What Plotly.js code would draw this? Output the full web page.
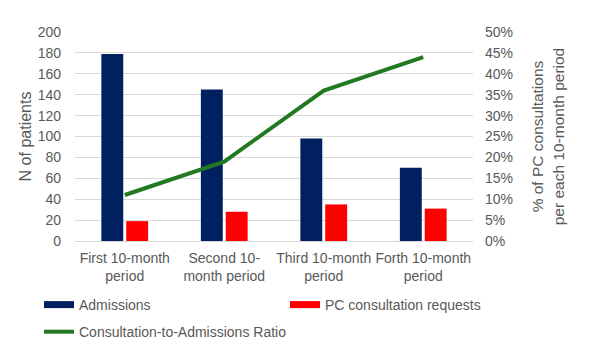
<!DOCTYPE html>
<html>
<head>
<meta charset="utf-8">
<script src="https://cdn.plot.ly/plotly-3.0.1.min.js"></script>
<style>
  html, body { margin: 0; padding: 0; background: #fff; }
  #chart { width: 600px; height: 347px; }
</style>
</head>
<body>
<div id="chart"></div>
<script>
// Four consecutive 10-month periods
const periods = [
  "First 10-month<br>period",
  "Second 10-<br>month period",
  "Third 10-month<br>period",
  "Forth 10-month<br>period"
];

// Patient counts per period
const admissions = [179, 145, 98, 70];
const pcRequests = [19, 28, 35, 31];

// Consultation-to-admissions ratio per period
const ratio = [0.11, 0.19, 0.36, 0.44];

// Axis ticks
const countTicks = [0, 20, 40, 60, 80, 100, 120, 140, 160, 180, 200];
const pctTicks = [0, 0.05, 0.10, 0.15, 0.20, 0.25, 0.30, 0.35, 0.40, 0.45, 0.50];

const NAVY = "#002060";
const RED = "#ff0000";
const GREEN = "#217a21";
const TEXT = "#595959";
const GRID = "#d9d9d9";
const FONT = "Liberation Sans, Arial, sans-serif";

const traces = [
  {
    type: "bar", name: "Admissions", x: periods, y: admissions,
    marker: { color: NAVY }, showlegend: false, hoverinfo: "x+y"
  },
  {
    type: "bar", name: "PC consultation requests", x: periods, y: pcRequests,
    marker: { color: RED }, showlegend: false, hoverinfo: "x+y"
  },
  {
    type: "scatter", mode: "lines", name: "Consultation-to-Admissions Ratio",
    x: periods, y: ratio, yaxis: "y2",
    line: { color: GREEN, width: 4 }, legend: "legend3"
  },
  // legend keys for the bar series, drawn as wide flat swatches
  {
    type: "scatter", mode: "lines", name: "Admissions",
    x: [null], y: [null], line: { color: NAVY, width: 7 }, hoverinfo: "skip",
    legend: "legend"
  },
  {
    type: "scatter", mode: "lines", name: "PC consultation requests",
    x: [null], y: [null], line: { color: RED, width: 7 }, hoverinfo: "skip",
    legend: "legend2"
  }
];

function legendAt(x, y) {
  return {
    orientation: "h", xref: "container", yref: "container",
    x: x, xanchor: "left", y: y, yanchor: "middle",
    font: { size: 14, color: TEXT }, bgcolor: "rgba(0,0,0,0)"
  };
}

const layout = {
  width: 600, height: 347,
  margin: { l: 75, r: 127, t: 32, b: 106 },
  paper_bgcolor: "#fff", plot_bgcolor: "#fff",
  font: { family: FONT, size: 14, color: TEXT },
  barmode: "group", bargap: 0.5, bargroupgap: 0.12,
  xaxis: {
    type: "category", showgrid: false, zeroline: false,
    showline: false, ticks: "", ticklabelstandoff: 7,
    tickfont: { size: 14, color: TEXT }
  },
  yaxis: {
    range: [0, 200], tickvals: countTicks, showgrid: true, gridcolor: GRID,
    gridwidth: 1, zeroline: true, zerolinecolor: GRID, zerolinewidth: 1,
    showline: false, ticks: "", ticklabelstandoff: 13,
    tickfont: { size: 14, color: TEXT },
    title: { text: "N of patients", font: { size: 16, color: TEXT }, standoff: 2 }
  },
  yaxis2: {
    overlaying: "y", side: "right", range: [0, 0.5], tickvals: pctTicks,
    tickformat: ".0%", showgrid: false, zeroline: false, showline: false,
    ticks: "", ticklabelstandoff: 11,
    tickfont: { size: 14, color: TEXT },
    title: {
      text: "% of PC consultations<br>per each 10-month period",
      font: { size: 15.5, color: TEXT }, standoff: 20
    }
  },
  legend: legendAt(0.065, 0.121),
  legend2: legendAt(0.475, 0.121),
  legend3: legendAt(0.065, 0.043),
  showlegend: true
};

Plotly.newPlot("chart", traces, layout, { displayModeBar: false, staticPlot: true });
</script>
</body>
</html>
